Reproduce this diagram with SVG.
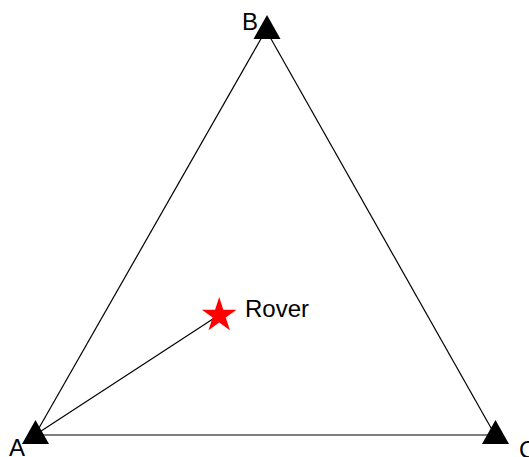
<svg xmlns="http://www.w3.org/2000/svg" width="529" height="457" viewBox="0 0 529 457">
<style>
.edge{stroke:#000;stroke-width:1.2;fill:none}
.lbl{font-family:"Liberation Sans",Arial,sans-serif;font-size:24px;fill:#000}
.tri{fill:#000}
</style>
<defs>
<polygon id="marker" points="0,-15 13.5,9 -13.5,9"/>
</defs>
<g id="connectors">
<line class="edge" x1="35" y1="435" x2="266" y2="30"/>
<line class="edge" x1="266" y1="30" x2="495" y2="435"/>
<line class="edge" x1="35" y1="435" x2="495" y2="435"/>
<line class="edge" x1="35" y1="435" x2="219" y2="315"/>
</g>
<g id="nodeB">
<text class="lbl" x="242" y="30">B</text>
<use href="#marker" class="tri" x="267" y="30"/>
</g>
<g id="nodeA">
<text class="lbl" x="9" y="456">A</text>
<use href="#marker" class="tri" x="35.5" y="435"/>
</g>
<g id="nodeC">
<text class="lbl" x="519" y="458">C</text>
<use href="#marker" class="tri" x="495.5" y="435"/>
</g>
<g id="rover">
<polygon fill="#ff0000" points="219.2,297 223.3,309.7 236.5,309.7 225.8,317.5 229.9,330.2 219.2,322.4 208.5,330.2 212.6,317.5 201.9,309.7 215.1,309.7"/>
<text class="lbl" x="245" y="317">Rover</text>
</g>
</svg>
